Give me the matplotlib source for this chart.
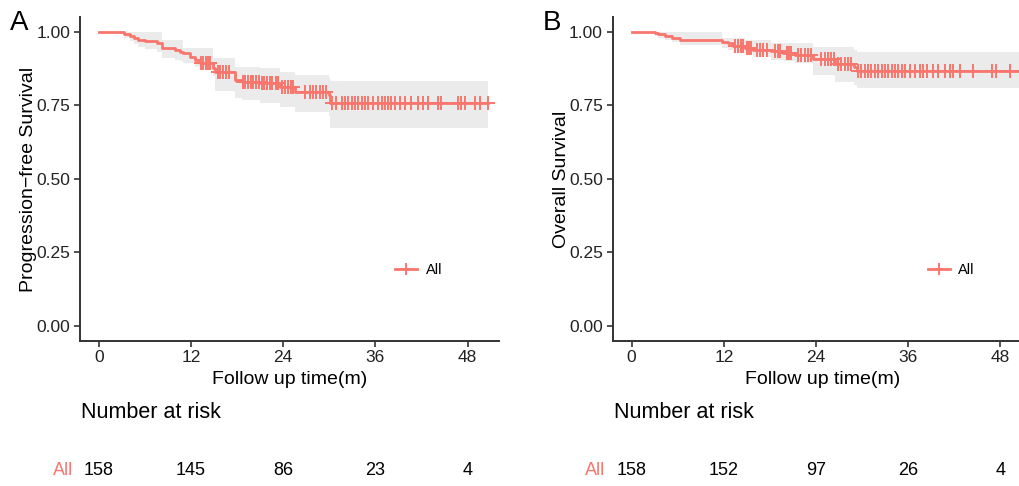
import numpy as np
import matplotlib
matplotlib.use("Agg")
import matplotlib.pyplot as plt
from matplotlib.lines import Line2D
from matplotlib.transforms import blended_transform_factory

plt.rcParams['font.family'] = ['Liberation Sans', 'DejaVu Sans']

RED = '#F8766D'
DARK = '#333333'

# PFS (panel A): event times, survival, CI lower/upper
pfs_t = [0, 3.2, 4.0, 4.6, 5.1, 6.0, 7.5, 8.2, 9.9, 10.5, 11.0, 11.8, 12.5, 13.1,
         14.9, 15.1, 17.7, 18.6, 21.0, 23.6, 25.5, 29.9, 30.1]
pfs_s = [1.0, 0.994, 0.987, 0.981, 0.973, 0.968, 0.962, 0.944, 0.939, 0.932, 0.927,
         0.916, 0.905, 0.894, 0.876, 0.865, 0.837, 0.831, 0.825, 0.814, 0.797, 0.786, 0.757]
pfs_lo = [1.0, 0.981, 0.969, 0.959, 0.949, 0.941, 0.933, 0.91, 0.905, 0.9, 0.896,
          0.894, 0.88, 0.871, 0.85, 0.80, 0.775, 0.769, 0.757, 0.746, 0.729, 0.715, 0.672]
pfs_hi = [1.0, 1.0, 1.0, 1.0, 1.0, 1.0, 1.0, 0.973, 0.973, 0.973, 0.944, 0.944,
          0.944, 0.944, 0.91, 0.91, 0.882, 0.882, 0.877, 0.865, 0.855, 0.845, 0.834]
pfs_cens = [13.3, 13.6, 13.9, 14.2, 14.5, 15.5, 15.8, 16.2, 16.5, 17.0,
            18.8, 19.0, 19.4, 19.8, 20.1, 20.5, 20.8, 21.2, 21.5, 21.9, 22.3, 22.6,
            23.0, 23.3, 23.8, 24.2, 24.6, 25.0, 25.3, 26.8, 27.5, 27.9, 28.3, 28.8,
            29.2, 29.6, 30.3, 30.9, 31.6, 32.0, 32.5, 32.9, 33.3, 33.8, 34.2, 34.6,
            35.1, 35.7, 36.4, 36.8, 37.2, 37.6, 38.1, 38.5, 39.2, 39.8, 40.7, 41.6,
            42.2, 42.9, 44.2, 44.6, 46.8, 47.2, 47.7, 49.0, 49.6, 50.7]
pfs_end = 50.7
pfs_risk = [158, 145, 86, 23, 4]

# OS (panel B)
os_t = [0, 3.0, 3.4, 4.3, 5.2, 6.3, 11.7, 12.6, 13.2, 14.7, 15.8, 18.2, 19.7,
        21.3, 23.6, 26.5, 28.9, 29.3]
os_s = [1.0, 0.996, 0.992, 0.986, 0.981, 0.973, 0.967, 0.961, 0.953, 0.944, 0.939,
        0.935, 0.927, 0.922, 0.907, 0.892, 0.882, 0.869]
os_lo = [1.0, 0.985, 0.978, 0.972, 0.967, 0.956, 0.945, 0.939, 0.93, 0.927, 0.916,
         0.905, 0.9, 0.894, 0.854, 0.831, 0.82, 0.808]
os_hi = [1.0, 1.0, 1.0, 1.0, 1.0, 1.0, 0.979, 0.979, 0.979, 0.973, 0.973, 0.961,
         0.961, 0.961, 0.948, 0.948, 0.94, 0.933]
os_cens = [13.5, 13.9, 14.2, 14.5, 15.0, 15.3, 15.6, 16.3, 16.7, 17.1, 17.6,
           18.6, 19.0, 19.3, 20.2, 20.5, 20.8, 21.7, 22.1, 22.6, 23.0, 23.3,
           24.7, 25.2, 25.6, 26.0, 26.3, 26.9, 27.3, 27.8, 28.2, 28.6,
           29.5, 29.9, 30.4, 30.8, 31.2, 31.7, 32.1, 32.6, 33.0, 33.4, 33.9, 34.3,
           34.7, 35.2, 35.6, 36.2, 36.9, 37.5, 38.0, 38.4, 39.3, 39.9, 40.8, 41.5,
           41.9, 42.8, 44.5, 46.9, 47.5, 49.3, 50.7]
os_end = 50.7
os_risk = [158, 152, 97, 26, 4]

risk_times = [0, 12, 24, 36, 48]
yticks = [0.0, 0.25, 0.5, 0.75, 1.0]


def km_panel(fig, rect, t, s, lo, hi, cens, end, risk, ylab, letter, ylab_x):
    ax = fig.add_axes(rect)
    tt = np.append(t, end)
    ss = np.append(s, s[-1])
    ax.fill_between(tt, np.append(lo, lo[-1]), np.append(hi, hi[-1]),
                    step='post', color='#EBEBEB', lw=0)
    ax.step(tt, ss, where='post', color=RED, lw=2)
    idx = np.searchsorted(t, cens, side='right') - 1
    ax.plot(cens, np.array(s)[idx], ls='none', marker='+', ms=10, mew=1.4, color=RED)

    ax.set_xlim(-2.47, 52.1)
    ax.set_ylim(-0.05, 1.05)
    ax.set_xticks(risk_times)
    ax.set_yticks(yticks)
    ax.set_yticklabels([f"{v:.2f}" for v in yticks])
    for side in ['top', 'right']:
        ax.spines[side].set_visible(False)
    for side in ['left', 'bottom']:
        ax.spines[side].set_color(DARK)
        ax.spines[side].set_linewidth(1.4)
    ax.tick_params(colors=DARK, labelcolor='#222222', labelsize=12.5, length=4,
                   width=1.2, pad=3)
    ax.set_xlabel("Follow up time(m)", fontsize=14, labelpad=4)
    ax.set_ylabel(ylab, fontsize=14)
    ax.yaxis.set_label_coords(ylab_x, 0.5)

    h = Line2D([], [], color=RED, lw=2, marker='+', ms=8, mew=1.4)
    ax.legend([h], ['All'], loc='center left', bbox_to_anchor=(0.752, 0.219),
              frameon=False, fontsize=10.5, handlelength=1.5, handletextpad=0.6,
              borderaxespad=0, borderpad=0)

    ax.text(-0.168, 0.983, letter, transform=ax.transAxes, fontsize=20,
            ha='left', va='center')

    # number at risk table
    tr = blended_transform_factory(ax.transData, fig.transFigure)
    tf = blended_transform_factory(ax.transAxes, fig.transFigure)
    ax.text(0.003, 1 - 413 / 486, "Number at risk", transform=tf, fontsize=15.5,
            ha='left', va='center')
    yrow = 1 - 470 / 486
    for x, n in zip(risk_times, risk):
        ax.text(x, yrow, str(n), transform=tr, fontsize=13, ha='center', va='center')
    ax.text(-0.017, yrow, "All", transform=tf, fontsize=13, ha='right',
            va='center', color=RED)
    return ax


fig = plt.figure(figsize=(10.2, 4.86), dpi=100)
km_panel(fig, [0.0784, 0.299, 0.4108, 0.6654], pfs_t, pfs_s, pfs_lo, pfs_hi,
         pfs_cens, pfs_end, pfs_risk, "Progression\u2212free Survival", "A", -0.102)
km_panel(fig, [0.6007, 0.299, 0.4108, 0.6654], os_t, os_s, os_lo, os_hi,
         os_cens, os_end, os_risk, "Overall Survival", "B", -0.102)

fig.savefig("out.png", dpi=100)
